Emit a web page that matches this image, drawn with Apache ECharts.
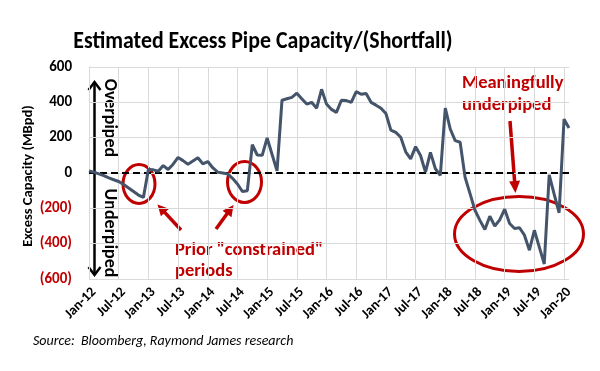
<!DOCTYPE html>
<html><head><meta charset="utf-8">
<script src="https://cdn.jsdelivr.net/npm/echarts/dist/echarts.min.js"></script>
<style>html,body{margin:0;padding:0;background:#fff}#c{width:600px;height:371px}</style>
</head><body><div id="c"></div>
<script>
// ---- data ----
const categories = [
 'Jan-12','Feb-12','Mar-12','Apr-12','May-12','Jun-12','Jul-12','Aug-12','Sep-12','Oct-12','Nov-12','Dec-12',
 'Jan-13','Feb-13','Mar-13','Apr-13','May-13','Jun-13','Jul-13','Aug-13','Sep-13','Oct-13','Nov-13','Dec-13',
 'Jan-14','Feb-14','Mar-14','Apr-14','May-14','Jun-14','Jul-14','Aug-14','Sep-14','Oct-14','Nov-14','Dec-14',
 'Jan-15','Feb-15','Mar-15','Apr-15','May-15','Jun-15','Jul-15','Aug-15','Sep-15','Oct-15','Nov-15','Dec-15',
 'Jan-16','Feb-16','Mar-16','Apr-16','May-16','Jun-16','Jul-16','Aug-16','Sep-16','Oct-16','Nov-16','Dec-16',
 'Jan-17','Feb-17','Mar-17','Apr-17','May-17','Jun-17','Jul-17','Aug-17','Sep-17','Oct-17','Nov-17','Dec-17',
 'Jan-18','Feb-18','Mar-18','Apr-18','May-18','Jun-18','Jul-18','Aug-18','Sep-18','Oct-18','Nov-18','Dec-18',
 'Jan-19','Feb-19','Mar-19','Apr-19','May-19','Jun-19','Jul-19','Aug-19','Sep-19','Oct-19','Nov-19','Dec-19',
 'Jan-20','Feb-20'
];
const excessCapacity = [
 12,5,-5,-15,-28,-38,-48,-65,-85,-105,-125,-138,
 20,18,10,42,20,50,88,70,50,68,86,52,
 65,30,5,0,-5,-30,-62,-105,-100,160,102,100,
 198,105,12,412,420,428,452,420,390,400,367,474,
 390,360,343,412,410,400,461,446,450,400,384,367,
 337,243,230,202,120,80,149,99,5,117,24,-14,
 367,249,183,174,-24,-117,-211,-268,-320,-245,-300,-265,
 -205,-286,-314,-310,-352,-437,-324,-420,-515,-10,-120,-225,
 305,255
];
const yMin = -600, yMax = 600, yStep = 200;
const titleText = 'Estimated Excess Pipe Capacity/(Shortfall)';
const yAxisTitle = 'Excess Capacity (MBpd)';
const sourceText = 'Source:  Bloomberg, Raymond James research';

// ---- style ----
const FONT = 'Carlito, Lato, "Open Sans", sans-serif';
const RED = '#C00000';
const LINE = '#44546A';
const GRID = '#D9D9D9';

function arrow(x1, y1, x2, y2, color, lw, hl, hw) {
  const a = Math.atan2(y2 - y1, x2 - x1);
  const c = Math.cos(a), s = Math.sin(a);
  const bx = x2 - hl * c, by = y2 - hl * s;
  return [
    {type:'line', shape:{x1:x1, y1:y1, x2:bx + c, y2:by + s}, style:{stroke:color, lineWidth:lw}, silent:true},
    {type:'polygon', shape:{points:[[x2,y2],[bx - hw/2 * s, by + hw/2 * c],[bx + hw/2 * s, by - hw/2 * c]]}, style:{fill:color}, silent:true}
  ];
}
function txt(x, y, text, opts) {
  return Object.assign({
    type:'text', x:x, y:y, silent:true,
    style:Object.assign({text:text, fontFamily:FONT, fontWeight:'bold', fontSize:14, fill:'#000',
      align:'center', verticalAlign:'middle', textAlign:'center', textVerticalAlign:'middle'}, opts.style || {})
  }, opts.el || {});
}
const leftRed = {fontSize:18.5, fill:RED, align:'left', textAlign:'left'};

const graphics = [
  txt(263, 42, titleText, {style:{fontSize:24}, el:{scaleX:0.91}}),
  txt(33, 341, sourceText, {style:{fontSize:14, fontWeight:'normal', fontStyle:'italic', align:'left', textAlign:'left'}}),
  txt(28, 176, yAxisTitle, {style:{fontSize:14.5}, el:{rotation:Math.PI/2}}),
  txt(109, 118, 'Overpiped', {style:{fontSize:18}, el:{rotation:-Math.PI/2}}),
  txt(109, 233, 'Underpiped', {style:{fontSize:18}, el:{rotation:-Math.PI/2}}),
  // black double arrow
  {type:'line', shape:{x1:94.5, y1:83, x2:94.5, y2:274}, style:{stroke:'#000', lineWidth:2.5}, silent:true},
  {type:'polyline', shape:{points:[[88.5,90],[94.5,82],[100.5,90]]}, style:{stroke:'#000', lineWidth:2.5, fill:null}, silent:true},
  {type:'polyline', shape:{points:[[88.5,267],[94.5,275],[100.5,267]]}, style:{stroke:'#000', lineWidth:2.5, fill:null}, silent:true},
  // ellipses
  {type:'ellipse', shape:{cx:139, cy:184, rx:16, ry:19.5}, style:{fill:null, stroke:RED, lineWidth:3}, silent:true},
  {type:'ellipse', shape:{cx:244.5, cy:182, rx:17, ry:20.5}, style:{fill:null, stroke:RED, lineWidth:3}, silent:true},
  {type:'ellipse', shape:{cx:519, cy:234, rx:64.5, ry:37.5}, style:{fill:null, stroke:RED, lineWidth:3}, silent:true},
  ...arrow(181, 230, 157.5, 204.5, RED, 3.5, 11, 11),
  ...arrow(216, 229, 233.5, 205, RED, 3.5, 11, 11),
  ...arrow(510, 121, 515.5, 193, RED, 3.5, 12, 11),
  txt(175, 250, 'Prior "constrained"', {style:leftRed}),
  txt(175, 271, 'periods', {style:leftRed}),
  txt(462, 83, 'Meaningfully', {style:leftRed}),
  txt(462, 105, 'underpiped', {style:leftRed})
];

const chart = echarts.init(document.getElementById('c'), null, {renderer:'canvas'});
chart.setOption({
  animation:false,
  backgroundColor:'#fff',
  grid:{left:89, right:31, top:67, bottom:92, containLabel:false},
  xAxis:{
    type:'category', data:categories, boundaryGap:false,
    axisLine:{show:true, lineStyle:{color:GRID, width:1}},
    axisTick:{show:false},
    axisLabel:{interval:5, rotate:45, margin:6, verticalAlign:'top', fontFamily:FONT, fontWeight:'bold', fontSize:14, color:'#000'},
    splitLine:{show:true, interval:5, lineStyle:{color:GRID, width:1}}
  },
  yAxis:{
    type:'value', min:yMin, max:yMax, interval:yStep,
    axisLine:{show:true, lineStyle:{color:GRID, width:1}},
    axisTick:{show:false},
    axisLabel:{margin:17, fontFamily:FONT, fontWeight:'bold', fontSize:15,
      formatter:function(v){ return v < 0 ? '(' + (-v) + ')' : String(v); },
      color:function(v){ return Number(v) < 0 ? RED : '#000'; }},
    splitLine:{show:true, lineStyle:{color:GRID, width:1}}
  },
  series:[{
    type:'line', data:excessCapacity, symbol:'none', smooth:false,
    lineStyle:{color:LINE, width:3}, z:3,
    markLine:{silent:true, symbol:'none', label:{show:false},
      lineStyle:{color:'#000', type:[7,4], width:2},
      data:[{yAxis:0}], z:2}
  }],
  graphic:graphics
});
</script></body></html>
